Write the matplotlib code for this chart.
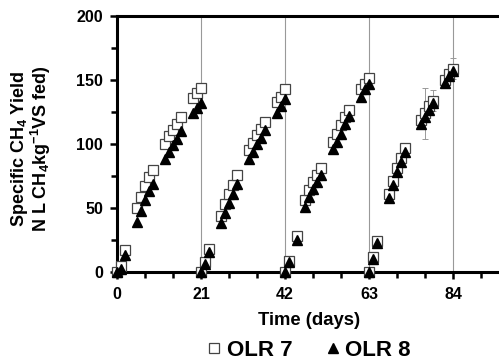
import numpy as np
import matplotlib
matplotlib.use("Agg")
import matplotlib.pyplot as plt
from matplotlib.lines import Line2D

plt.rcParams['font.family'] = ['Liberation Sans', 'DejaVu Sans']
plt.rcParams['font.weight'] = 'bold'
plt.rcParams['mathtext.fontset'] = 'custom'
plt.rcParams['mathtext.rm'] = 'Liberation Sans:bold'
plt.rcParams['mathtext.it'] = 'Liberation Sans:bold'
plt.rcParams['mathtext.default'] = 'rm'

# sampling days, four 21-day feeding cycles
days_c1 = [0, 1, 2, 5, 6, 7, 8, 9, 12, 13, 14, 15, 16, 19, 20, 21]
days_c2 = [21, 22, 23, 26, 27, 28, 29, 30, 33, 34, 35, 36, 37, 40, 41, 42]
days_c3 = [42, 43, 45, 47, 48, 49, 50, 51, 54, 55, 56, 57, 58, 61, 62, 63]
days_c4 = [63, 64, 65, 68, 69, 70, 71, 72, 76, 77, 78, 79, 82, 83, 84]

olr7_c1 = [0, 5, 17, 50, 59, 67, 74, 80, 100, 106, 111, 116, 121, 136, 140, 144]
olr7_c2 = [0, 8, 18, 44, 53, 61, 68, 76, 95, 101, 107, 112, 117, 133, 137, 143]
olr7_c3 = [0, 9, 28, 56, 64, 70, 76, 81, 102, 108, 115, 121, 127, 143, 147, 152]
olr7_c4 = [0, 12, 24, 61, 71, 81, 89, 97, 119, 124, 130, 134, 150, 155, 159]

olr8_c1 = [0, 2, 13, 39, 48, 56, 63, 69, 88, 94, 99, 104, 110, 124, 128, 132]
olr8_c2 = [0, 6, 16, 38, 46, 54, 61, 69, 88, 94, 100, 105, 111, 124, 130, 135]
olr8_c3 = [0, 8, 25, 51, 59, 65, 70, 76, 96, 102, 108, 116, 122, 137, 143, 147]
olr8_c4 = [0, 10, 23, 58, 68, 78, 86, 94, 116, 121, 127, 132, 148, 153, 157]

# standard deviations (OLR 7), mostly hidden under the markers
err7_c4 = [0, 1, 1, 2, 2, 2, 2, 2, 2, 20, 2, 8, 3, 3, 8]

cycle_ends = [21, 42, 63, 84]

days = days_c1 + days_c2 + days_c3 + days_c4
olr7 = olr7_c1 + olr7_c2 + olr7_c3 + olr7_c4
olr8 = olr8_c1 + olr8_c2 + olr8_c3 + olr8_c4
err7 = [2] * (len(days) - len(err7_c4)) + err7_c4

fig = plt.figure(figsize=(4.99, 3.64), dpi=100)
ax = fig.add_axes([0.2345, 0.2527, 0.77, 0.703])

for d in cycle_ends:
    ax.axvline(d, color='#999999', lw=0.8, zorder=1)

ax.errorbar(days, olr7, yerr=err7, fmt='none', ecolor='#999999',
            elinewidth=0.7, capsize=2, capthick=0.7, zorder=2)
ax.plot(days, olr7, linestyle='none', marker='s', ms=7, mfc='white',
        mec='#444444', mew=0.9, zorder=3, clip_on=False)
ax.plot(days, olr8, linestyle='none', marker='^', ms=7, mfc='black',
        mec='black', zorder=4, clip_on=False)

ax.set_xlim(0, 96)
ax.set_ylim(0, 200)
ax.set_xticks([0, 21, 42, 63, 84])
ax.set_xticks(np.arange(0, 96, 7), minor=True)
ax.set_yticks([0, 50, 100, 150, 200])
ax.set_yticks(np.arange(0, 201, 25), minor=True)

for s in ['left', 'top', 'bottom']:
    ax.spines[s].set_linewidth(2.2)
ax.spines['right'].set_visible(False)
ax.tick_params(which='both', direction='out', width=1.8, color='black')
ax.tick_params(which='major', length=5, labelsize=11.5)
ax.tick_params(axis='x', which='major', pad=6)
ax.tick_params(axis='y', which='major', pad=5)
ax.tick_params(which='minor', length=4)
for lab in ax.get_xticklabels() + ax.get_yticklabels():
    lab.set_fontweight('bold')

ax.set_xlabel('Time (days)', fontsize=13.3, fontweight='bold', labelpad=7)
fig.text(0.062, 0.592, 'Specific CH$_4$ Yield\nN L CH$_4$kg$^{-1}$VS fed)',
         rotation=90, ha='center', va='center', multialignment='center',
         fontsize=13, fontweight='bold', linespacing=0.95)

handles = [Line2D([], [], linestyle='none', marker='s', ms=7.5, mfc='white',
                  mec='#444444', mew=0.9),
           Line2D([], [], linestyle='none', marker='^', ms=7, mfc='black',
                  mec='black')]
fig.legend(handles, ['OLR 7', 'OLR 8'], loc='center', bbox_to_anchor=(0.621, 0.038),
           ncol=2, frameon=False, handletextpad=0.3, columnspacing=1.6,
           handlelength=0.5, borderpad=0, prop={'weight': 'bold', 'size': 16})

fig.savefig('out.png', dpi=100)
